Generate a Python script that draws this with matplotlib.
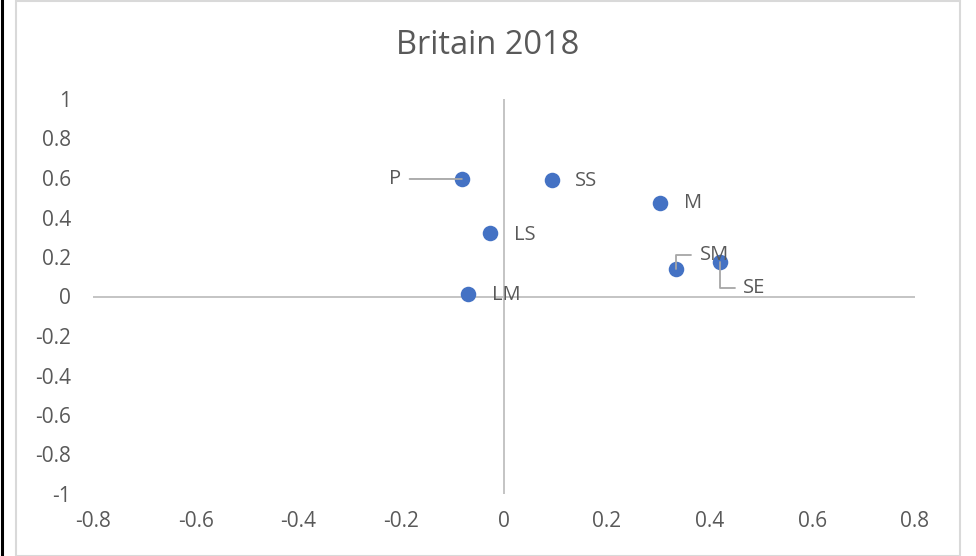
import matplotlib.pyplot as plt
from matplotlib.patches import Rectangle
from matplotlib.lines import Line2D

plt.rcParams["font.family"] = ["Open Sans", "DejaVu Sans"]

# classes on the two component axes
labels = ["P", "SS", "M", "LS", "SM", "SE", "LM"]
x_vals = [-0.082, 0.093, 0.304, -0.027, 0.335, 0.420, -0.070]
y_vals = [0.595, 0.590, 0.473, 0.320, 0.139, 0.175, 0.013]

# label offsets in points and leader style for each point
offsets = {
    "P": (-48, 0, "center", None),
    "SS": (17, -1, "left", None),
    "M": (17, 0, "left", None),
    "LS": (17, -1, "left", None),
    "LM": (17, -1, "left", None),
    "SM": (17, 10, "left", "angle,angleA=0,angleB=90,rad=0"),
    "SE": (17, -19, "left", "angle,angleA=0,angleB=90,rad=0"),
}

x_ticks = [-0.8, -0.6, -0.4, -0.2, 0, 0.2, 0.4, 0.6, 0.8]
y_ticks = [-1, -0.8, -0.6, -0.4, -0.2, 0, 0.2, 0.4, 0.6, 0.8, 1]

text_col = "#595959"
line_col = "#BFBFBF"
dot_col = "#4472C4"


def fmt(v):
    return "0" if v == 0 else ("%g" % v)


fig = plt.figure(figsize=(9.76, 5.56), dpi=100)
fig.patch.set_facecolor("white")

# chart frame and the dark edge on the left
fig.add_artist(Rectangle((15.5 / 976, 0.5 / 556), 944 / 976, 554.5 / 556,
                         transform=fig.transFigure, fill=False,
                         edgecolor="#D9D9D9", linewidth=1.5))
fig.add_artist(Line2D([1.5 / 976, 1.5 / 976], [0, 1], transform=fig.transFigure,
                      color="black", linewidth=2.2))

ax = fig.add_axes([93 / 976, 62 / 556, 822 / 976, 395 / 556])
ax.set_xlim(-0.8, 0.8)
ax.set_ylim(-1, 1)
for s in ax.spines.values():
    s.set_visible(False)

ax.axhline(0, color=line_col, linewidth=1.3, zorder=1)
ax.axvline(0, color=line_col, linewidth=1.3, zorder=1)

ax.set_xticks(x_ticks)
ax.set_xticklabels([fmt(v) for v in x_ticks])
ax.set_yticks(y_ticks)
ax.set_yticklabels([fmt(v) for v in y_ticks])
ax.tick_params(axis="both", length=0, labelsize=15, labelcolor=text_col)
ax.tick_params(axis="x", pad=12)
ax.tick_params(axis="y", pad=16)

ax.scatter(x_vals, y_vals, s=125, color=dot_col, zorder=3, linewidths=0)

for lab, x, y in zip(labels, x_vals, y_vals):
    dx, dy, ha, conn = offsets[lab]
    if lab == "P":
        arrow = dict(arrowstyle="-", color="#A6A6A6", lw=1.3, shrinkA=4, shrinkB=0)
    elif conn:
        arrow = dict(arrowstyle="-", color="#A6A6A6", lw=1.3, shrinkA=4, shrinkB=0,
                     connectionstyle=conn)
    else:
        arrow = None
    ax.annotate(lab, xy=(x, y), xytext=(dx, dy), textcoords="offset points",
                ha=ha, va="center", fontsize=14.5, color=text_col,
                arrowprops=arrow, zorder=4)

fig.text(488 / 976, 1 - 46 / 556, "Britain 2018", ha="center", va="center",
         fontsize=23.5, color=text_col)

fig.savefig("out.png", dpi=100)
